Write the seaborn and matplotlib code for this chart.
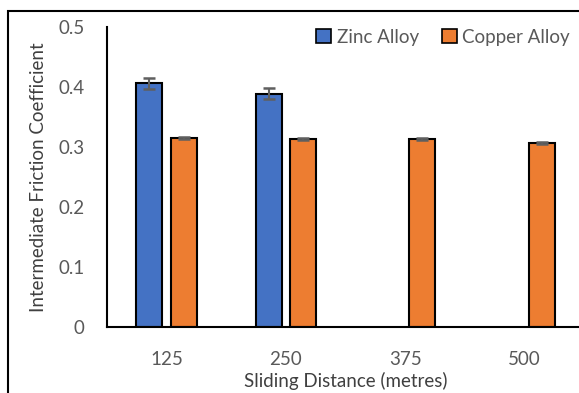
import numpy as np
import pandas as pd
import seaborn as sns
import matplotlib
matplotlib.use("Agg")
import matplotlib.pyplot as plt
from matplotlib.patches import Patch, Rectangle

# Sliding distances (metres) and mean intermediate friction coefficients
distances = ["125", "250", "375", "500"]
zinc_distances = ["125", "250"]
zinc_cof = [0.406, 0.389]
zinc_err = [0.009, 0.009]
copper_cof = [0.315, 0.314, 0.313, 0.307]
copper_err = [0.002, 0.0015, 0.0015, 0.0015]
alloys = ["Zinc Alloy", "Copper Alloy"]
colors = ["#4472C4", "#ED7D31"]

df = pd.DataFrame({
    "distance": zinc_distances + distances,
    "cof": zinc_cof + copper_cof,
    "alloy": [alloys[0]] * len(zinc_distances) + [alloys[1]] * len(distances),
})

sns.set_style("white")
plt.rcParams["font.family"] = ["Lato", "DejaVu Sans"]

fig = plt.figure(figsize=(5.79, 3.93), dpi=100)
ax = fig.add_axes([107 / 579, 66 / 393, 477 / 579, 300 / 393])

sns.barplot(data=df, x="distance", y="cof", hue="alloy", order=distances,
            hue_order=alloys, palette=colors, errorbar=None, width=0.58,
            gap=0.25, edgecolor="black", linewidth=1.5, saturation=1,
            legend=False, ax=ax)

# error bars at the centre of each drawn bar
for cont, errs in zip(ax.containers, [zinc_err, copper_err]):
    xs = [b.get_x() + b.get_width() / 2 for b in cont]
    ys = [b.get_height() for b in cont]
    ax.errorbar(xs, ys, yerr=errs, fmt="none", ecolor="#5f5f5f",
                elinewidth=1.5, capsize=4, capthick=1.8, zorder=5)

ax.set_ylim(0, 0.5)
ax.set_xlim(-0.5, 3.5)
ax.set_yticks([0, 0.1, 0.2, 0.3, 0.4, 0.5])
ax.set_yticklabels(["0", "0.1", "0.2", "0.3", "0.4", "0.5"])
ax.tick_params(axis="both", length=0, labelsize=13.5, labelcolor="#595959")
ax.tick_params(axis="y", pad=16)
ax.tick_params(axis="x", pad=17)

for side in ["top", "right"]:
    ax.spines[side].set_visible(False)
for side in ["left", "bottom"]:
    ax.spines[side].set_color("black")
    ax.spines[side].set_linewidth(1.5)

ax.set_xlabel("Sliding Distance (metres)", fontsize=13.5, color="#404040",
              labelpad=3)
ax.set_ylabel("Intermediate Friction Coefficient", fontsize=13.5,
              color="#404040", labelpad=8)

handles = [Patch(facecolor=c, edgecolor="black", linewidth=1.2) for c in colors]
fig.legend(handles, alloys, loc="center", bbox_to_anchor=(443 / 579, 1 - 37 / 393),
           ncol=2, frameon=False, fontsize=13.5, labelcolor="#595959",
           handlelength=0.8, handleheight=0.8, handletextpad=0.3,
           columnspacing=1.2)

# outer chart border
fig.patches.append(Rectangle((8 / 579, -0.1), 1.2, 1 - 11 / 393 + 0.1,
                             transform=fig.transFigure, fill=False,
                             edgecolor="black", linewidth=1.5))

fig.savefig("out.png", dpi=100)
